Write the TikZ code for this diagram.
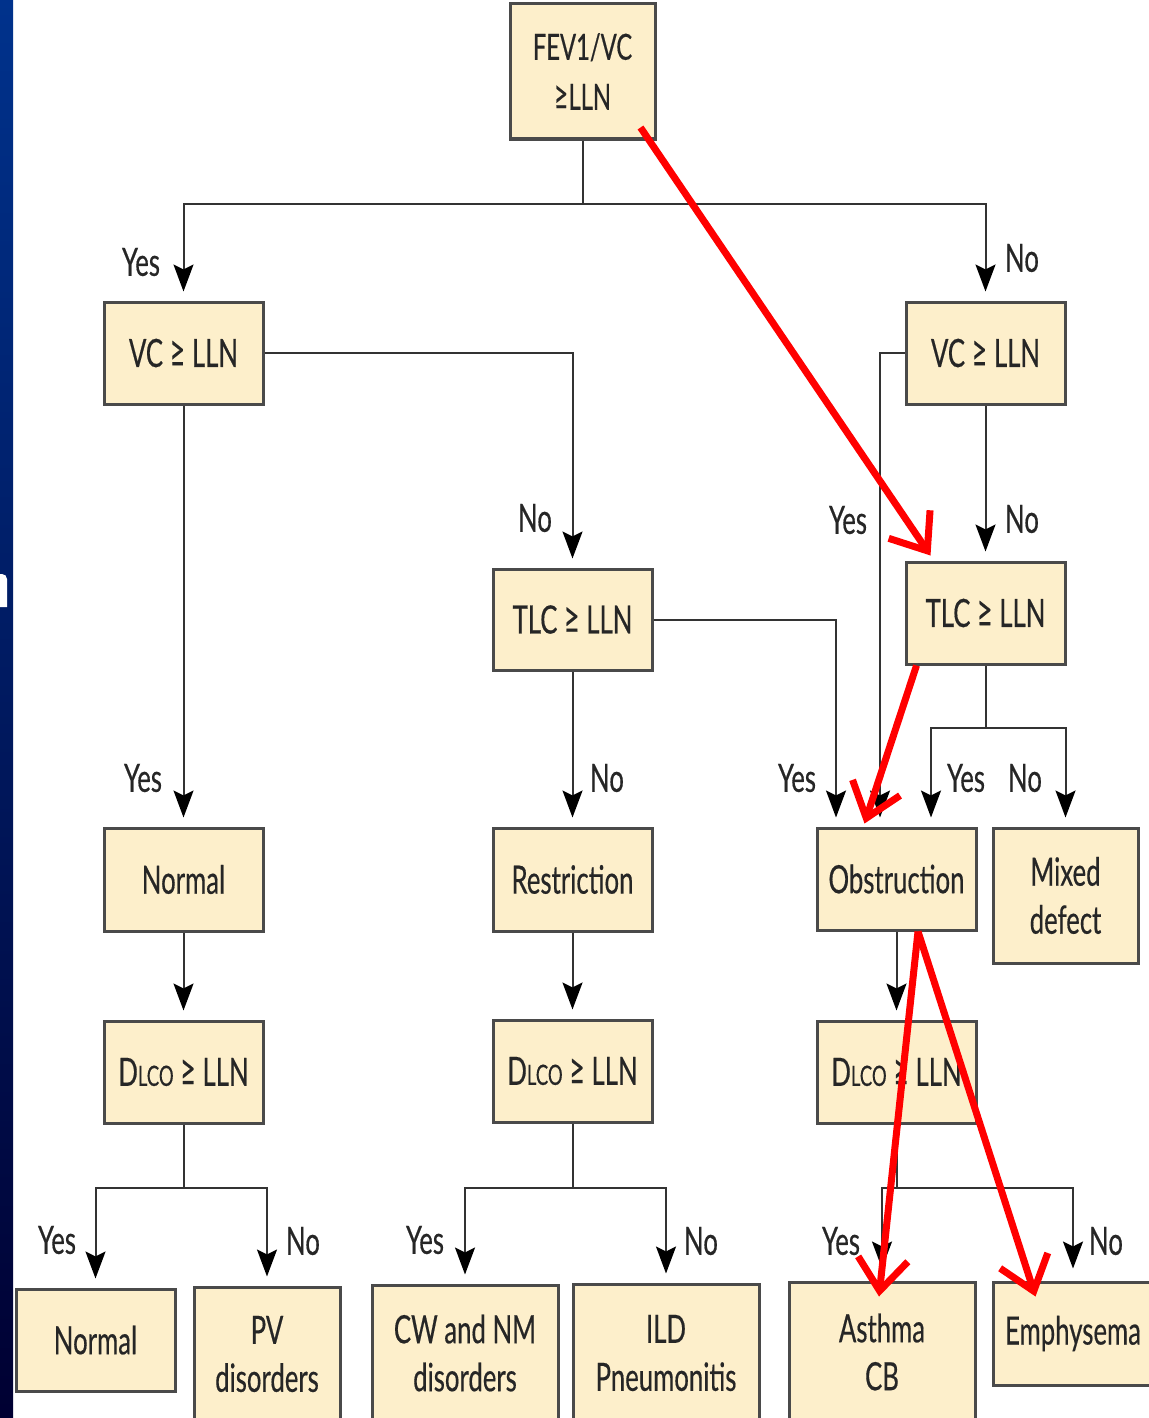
\documentclass[tikz,border=0pt]{standalone}
\usepackage{fontspec}
\setmainfont{Lato}[FakeStretch=0.66,FakeBold=0.4]
\usetikzlibrary{arrows.meta,calc}

\definecolor{boxfill}{HTML}{FDEFCB}
\definecolor{boxline}{HTML}{4A4A4A}
\definecolor{ink}{HTML}{262626}
\definecolor{lineg}{HTML}{333333}
\definecolor{slidetop}{RGB}{0,50,140}
\definecolor{slidebot}{RGB}{0,0,50}

\newcommand{\geqsym}{\scalebox{1.05}[1.15]{≥}}
\newcommand{\dlco}{D{\fontsize{14pt}{14pt}\selectfont LCO}}

\begin{document}
\begin{tikzpicture}[x=0.5pt,y=-0.5pt,
  box/.style={draw=boxline, fill=boxfill, line width=1.5pt, text=ink,
    align=center, inner sep=0pt, font=\fontsize{19.5pt}{24pt}\selectfont},
  wh/.style 2 args={minimum width=#1*0.5pt, minimum height=#2*0.5pt},
  conn/.style={draw=lineg, line width=1pt},
  arr/.style={conn, -{Stealth[length=13.5pt,width=10pt,inset=2.5pt,color=black]}, shorten >=4.5pt},
  lbl/.style={text=ink, inner sep=0pt, font=\fontsize{19.5pt}{24pt}\selectfont},
  redarr/.style={draw=red, line width=3.5pt, -{Straight Barb[length=16pt,width=25pt]}}
]
\useasboundingbox (0,0) rectangle (1149,1418);
\fill[white] (0,0) rectangle (1149,1418);

% slide edge on the left
\shade[top color=slidetop, bottom color=slidebot] (0,0) rectangle (13,1418);
\fill[white] (0,607) -- (0,574) [rounded corners=2.5pt] -- (7,574) [sharp corners] -- (7,607) -- cycle;

% decision and result boxes
\node[box, wh={145}{135}, font=\fontsize{18pt}{25pt}\selectfont] (fev) at (582.5,71.5) {FEV1/VC\\\geqsym LLN};
\node[box, wh={159}{102}] (vcL) at (183.5,353) {VC \geqsym\ LLN};
\node[box, wh={159}{102}] (vcR) at (985.5,353) {VC \geqsym\ LLN};
\node[box, wh={159}{101}] (tlcM) at (572.5,619.5) {TLC \geqsym\ LLN};
\node[box, wh={159}{102}] (tlcR) at (985.5,613) {TLC \geqsym\ LLN};
\node[box, wh={159}{103}] (normal1) at (183.5,879.5) {Normal};
\node[box, wh={159}{103}] (restr) at (572.5,879.5) {Restriction};
\node[box, wh={159}{102}] (obstr) at (896.5,879) {Obstruction};
\node[box, wh={145}{135}] (mixed) at (1065.5,895.5) {Mixed\\defect};
\node[box, wh={159}{102}] (dlcoL) at (183.5,1072) {\dlco{} \geqsym\ LLN};
\node[box, wh={159}{102}] (dlcoM) at (572.5,1071) {\dlco{} \geqsym\ LLN};
\node[box, wh={159}{102}] (dlcoR) at (896.5,1072) {\dlco{} \geqsym\ LLN};
\node[box, wh={159}{102}] (normal2) at (95.5,1340) {Normal};
\node[box, wh={146}{134}] (pv) at (267,1354) {PV\\disorders};
\node[box, wh={186}{136}] (cw) at (465,1353) {CW and NM\\disorders};
\node[box, wh={186}{138}] (ild) at (666,1353) {ILD\\Pneumonitis};
\node[box, wh={186}{140}] (asthma) at (882,1352) {Asthma\\CB};
\node[box, wh={160}{103}] (emph) at (1073,1333.5) {Emphysema};

% connectors
\coordinate (j0) at (582.5,204);
\draw[conn] (fev) -- (j0);
\draw[arr] (j0) -| (vcL);
\draw[arr] (j0) -| (vcR);

\draw[arr] (vcL.east) -| (tlcM);
\draw[arr] (vcL) -- (normal1);
\draw[arr] (vcR.west) -| ([xshift=-8.25pt]obstr.north);
\draw[arr] (vcR) -- (tlcR);
\draw[arr] (tlcM.east) -| ([xshift=-30.25pt]obstr.north);
\draw[arr] (tlcM) -- (restr);

\coordinate (j1) at (985.5,728);
\draw[conn] (tlcR) -- (j1);
\draw[arr] (j1) -| ([xshift=17.25pt]obstr.north);
\draw[arr] (j1) -| (mixed);

\draw[arr] (normal1) -- (dlcoL);
\draw[arr] (restr) -- (dlcoM);
\draw[arr] (obstr) -- (dlcoR);

\coordinate (j2) at (183.5,1188);
\draw[conn] (dlcoL) -- (j2);
\draw[arr] (j2) -| (normal2);
\draw[arr] (j2) -| (pv);

\coordinate (j3) at (572.5,1188);
\draw[conn] (dlcoM) -- (j3);
\draw[arr] (j3) -| (cw);
\draw[arr] (j3) -| (ild);

\coordinate (j4) at (896.5,1188);
\draw[conn] (dlcoR) -- (j4);
\draw[arr, shorten >=6pt] (j4) -| (asthma);
\draw[arr, shorten >=6pt] (j4) -| (emph);

% branch labels
\node[lbl] (l1) at (141,262) {Yes};
\node[lbl] (l2) at (1022,258) {No};
\node[lbl] (l3) at (535,518) {No};
\node[lbl] (l4) at (848,520) {Yes};
\node[lbl] (l5) at (1022,519) {No};
\node[lbl] (l6) at (143,778) {Yes};
\node[lbl] (l7) at (607,778) {No};
\node[lbl] (l8) at (797,778) {Yes};
\node[lbl] (l9) at (966,778) {Yes};
\node[lbl] (l10) at (1025,778) {No};
\node[lbl] (l11) at (57,1240) {Yes};
\node[lbl] (l12) at (303,1241) {No};
\node[lbl] (l13) at (425,1240) {Yes};
\node[lbl] (l14) at (701,1241) {No};
\node[lbl] (l15) at (841,1241) {Yes};
\node[lbl] (l16) at (1106,1241) {No};

% highlighted path
\draw[redarr] ([xshift=-8pt,yshift=6.5pt]fev.south east) -- ([xshift=13pt,yshift=2.5pt]tlcR.north west);
\draw[redarr] ([xshift=6pt]tlcR.south west) -- ([xshift=24.5pt,yshift=1.5pt]obstr.north west);
\draw[redarr] ([xshift=10.75pt]obstr.south) -- ([xshift=-1.5pt,yshift=-8pt]asthma.north);
\draw[redarr] ([xshift=10.75pt]obstr.south) -- ([xshift=22pt,yshift=-8pt]emph.north west);
\end{tikzpicture}
\end{document}
